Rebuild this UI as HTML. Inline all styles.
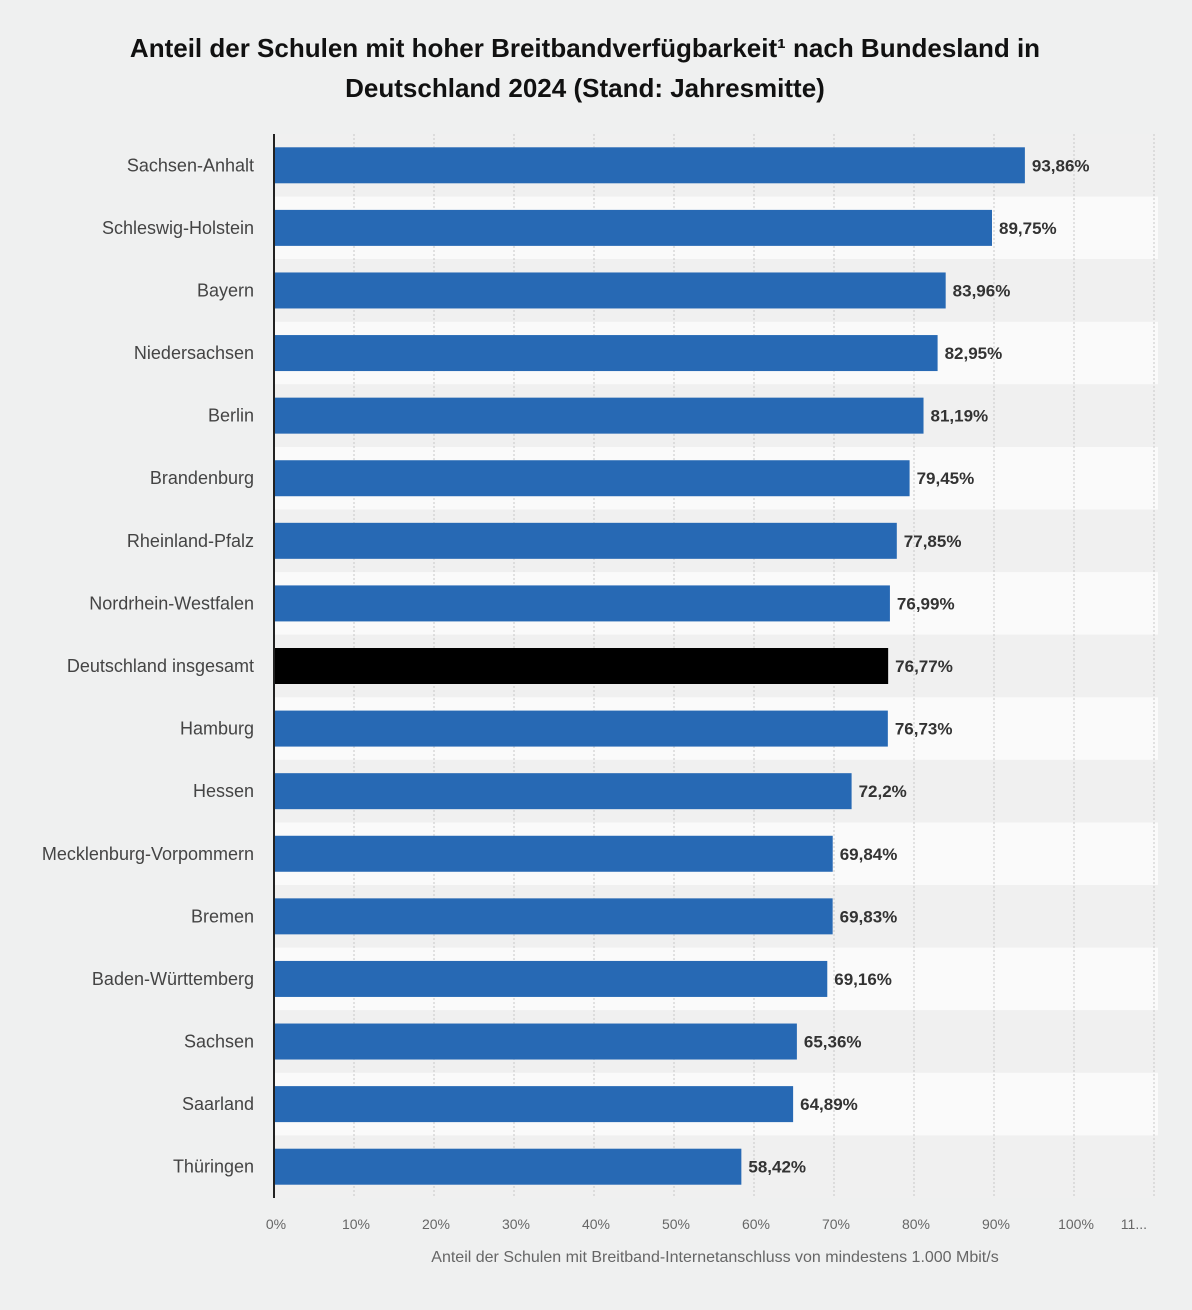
<!DOCTYPE html>
<html><head><meta charset="utf-8"><style>
body{margin:0;background:#eff0f0;font-family:"Liberation Sans",sans-serif;}
#wrap{position:relative;width:1192px;height:1310px;background:#eff0f0;}
#title{position:absolute;left:0;top:28px;width:1170px;text-align:center;font-weight:bold;font-size:26px;line-height:40px;color:#111;}
</style></head><body>
<div id="wrap">
<div id="title">Anteil der Schulen mit hoher Breitbandverfügbarkeit¹ nach Bundesland in<br>Deutschland 2024 (Stand: Jahresmitte)</div>
<svg id="chart" width="1192" height="1310" style="position:absolute;left:0;top:0"></svg>
</div>
<script>
const categories=["Sachsen-Anhalt","Schleswig-Holstein","Bayern","Niedersachsen","Berlin","Brandenburg","Rheinland-Pfalz","Nordrhein-Westfalen","Deutschland insgesamt","Hamburg","Hessen","Mecklenburg-Vorpommern","Bremen","Baden-Württemberg","Sachsen","Saarland","Thüringen"];
const values=[93.86,89.75,83.96,82.95,81.19,79.45,77.85,76.99,76.77,76.73,72.2,69.84,69.83,69.16,65.36,64.89,58.42];
const valueLabels=["93,86%","89,75%","83,96%","82,95%","81,19%","79,45%","77,85%","76,99%","76,77%","76,73%","72,2%","69,84%","69,83%","69,16%","65,36%","64,89%","58,42%"];
const ticks=[0,10,20,30,40,50,60,70,80,90,100,110];
const tickLabels=["0%","10%","20%","30%","40%","50%","60%","70%","80%","90%","100%","11..."];
const highlight="Deutschland insgesamt";
const NS="http://www.w3.org/2000/svg";
const svg=document.getElementById('chart');
const x0=274,pxPer=8.0,plotTop=134,plotBottom=1198;
const band=(plotBottom-plotTop)/categories.length;
const X=v=>x0+v*pxPer;
const Y=i=>plotTop+band*i;
function mk(t,a){const e=document.createElementNS(NS,t);for(const k in a)e.setAttribute(k,a[k]);svg.appendChild(e);return e;}
categories.forEach((c,i)=>{
  const r=mk('rect',{x:x0,y:Y(i),width:X(110)-x0+4,height:band,fill:i%2?'#fafafa':'#f0f0f0'});
  
  
});
ticks.forEach((t,i)=>{
  if(t>0){const l=mk('line',{x1:X(t),x2:X(t),y1:plotTop,y2:plotBottom,stroke:'#c8c8c8','stroke-width':1,'stroke-dasharray':'2,2'});
  
  }
  const last=i===ticks.length-1;
  const tx=mk('text',{x:last?X(t)-7:X(t)+2,y:1229,'text-anchor':last?'end':'middle','font-size':14,fill:'#666','font-family':'Liberation Sans'});
  tx.textContent=tickLabels[i];
  
  
});
categories.forEach((c,i)=>{
  const cy=Y(i)+band/2;
  const b=mk('rect',{x:x0,y:cy-18,width:X(values[i])-x0,height:36,fill:c===highlight?'#000':'#2769b4'});
  
  
  const l=mk('text',{x:254,y:cy+6,'text-anchor':'end','font-size':18,fill:'#444','font-family':'Liberation Sans'});
  l.textContent=c;
  
  
  const v=mk('text',{x:X(values[i])+7,y:cy+6,'font-size':17,'font-weight':'bold',fill:'#333','font-family':'Liberation Sans'});
  v.textContent=valueLabels[i];
  
  
});
const ax=mk('line',{x1:x0,x2:x0,y1:plotTop,y2:plotBottom,stroke:'#222','stroke-width':2});


const at=mk('text',{x:715,y:1262,'text-anchor':'middle','font-size':16,fill:'#666','font-family':'Liberation Sans'});
at.textContent="Anteil der Schulen mit Breitband-Internetanschluss von mindestens 1.000 Mbit/s";


</script>
</body></html>
